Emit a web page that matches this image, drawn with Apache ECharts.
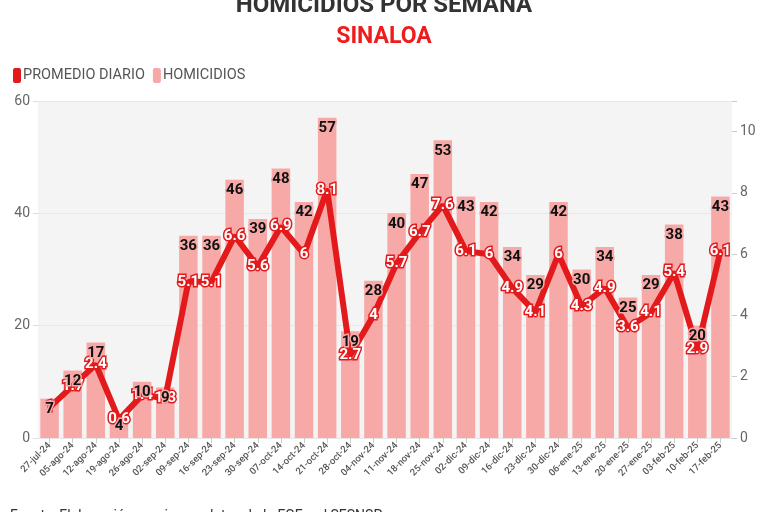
<!DOCTYPE html>
<html>
<head>
<meta charset="utf-8">
<script src="https://cdn.jsdelivr.net/npm/echarts@6/dist/echarts.min.js"></script>
<style>
  html, body { margin: 0; padding: 0; background: #fff; }
  #chart { width: 768px; height: 512px; }
</style>
</head>
<body>
<div id="chart"></div>
<script>
const weeks = [
  "27-jul-24", "05-ago-24", "12-ago-24", "19-ago-24", "26-ago-24", "02-sep-24",
  "09-sep-24", "16-sep-24", "23-sep-24", "30-sep-24", "07-oct-24", "14-oct-24",
  "21-oct-24", "28-oct-24", "04-nov-24", "11-nov-24", "18-nov-24", "25-nov-24",
  "02-dic-24", "09-dic-24", "16-dic-24", "23-dic-24", "30-dic-24", "06-ene-25",
  "13-ene-25", "20-ene-25", "27-ene-25", "03-feb-25", "10-feb-25", "17-feb-25"
];
const homicidios = [
  7, 12, 17, 4, 10, 9, 36, 36, 46, 39, 48, 42, 57, 19, 28,
  40, 47, 53, 43, 42, 34, 29, 42, 30, 34, 25, 29, 38, 20, 43
];
const promedioDiario = [
  1, 1.7, 2.4, 0.6, 1.4, 1.3, 5.1, 5.1, 6.6, 5.6, 6.9, 6, 8.1, 2.7, 4,
  5.7, 6.7, 7.6, 6.1, 6, 4.9, 4.1, 6, 4.3, 4.9, 3.6, 4.1, 5.4, 2.9, 6.1
];
const leftTicks = [0, 20, 40, 60];
const rightTicks = [0, 2, 4, 6, 8, 10];

const RED = "#e31a1c";
const PINK = "#f7a9a8";
const FONT = "Roboto";

const barLabel = {
  show: true,
  position: "insideTop",
  distance: 3,
  fontSize: 15,
  fontWeight: "bold",
  color: "#111",
  textBorderColor: PINK,
  textBorderWidth: 3
};

const chart = echarts.init(document.getElementById("chart"));

chart.setOption({
  backgroundColor: "#fff",
  textStyle: { fontFamily: FONT },
  title: [
    {
      text: "HOMICIDIOS POR SEMANA",
      left: "center",
      top: -11,
      textStyle: { fontSize: 24, fontWeight: "bold", color: "#333", fontFamily: FONT }
    },
    {
      text: "SINALOA",
      left: "center",
      top: 21,
      textStyle: { fontSize: 23, fontWeight: "bold", color: "#ee1c1c", fontFamily: FONT }
    }
  ],
  legend: {
    left: 8,
    top: 63,
    itemWidth: 8,
    itemHeight: 15,
    itemGap: 8,
    icon: "roundRect",
    textStyle: { fontSize: 14.5, color: "#555", padding: [0, 0, 0, -3] },
    data: ["PROMEDIO DIARIO", "HOMICIDIOS"]
  },
  grid: {
    left: 38,
    right: 36,
    top: 101,
    bottom: 74,
    show: true,
    backgroundColor: "#f4f4f4",
    borderWidth: 0
  },
  xAxis: {
    type: "category",
    data: weeks,
    axisLine: { show: true, lineStyle: { color: "#e6e6e6" } },
    axisTick: { show: true, alignWithLabel: true, length: 5, lineStyle: { color: "#ccc" } },
    axisLabel: {
      interval: 0,
      rotate: 45,
      fontSize: 9.5,
      color: "#555",
      fontWeight: 500,
      margin: 6
    }
  },
  yAxis: [
    {
      type: "value",
      min: leftTicks[0],
      max: leftTicks[leftTicks.length - 1],
      interval: 20,
      axisLine: { show: false },
      axisTick: { show: true, length: 5, lineStyle: { color: "#ddd" } },
      axisLabel: { fontSize: 14, color: "#666", margin: 8 },
      splitLine: { show: true, lineStyle: { color: "#e8e8e8" } }
    },
    {
      type: "value",
      min: 0,
      max: 11,
      interval: 2,
      position: "right",
      axisLine: { show: false },
      axisTick: { show: true, length: 5, lineStyle: { color: "#ccc" } },
      axisLabel: {
        fontSize: 14,
        color: "#666",
        margin: 8,
        formatter: v => (rightTicks.includes(v) ? String(v) : "")
      },
      splitLine: { show: false }
    }
  ],
  series: [
    {
      name: "HOMICIDIOS",
      type: "bar",
      yAxisIndex: 0,
      data: homicidios,
      barCategoryGap: "20%",
      itemStyle: { color: PINK },
      z: 2
    },
    {
      name: "PROMEDIO DIARIO",
      type: "line",
      yAxisIndex: 1,
      data: promedioDiario,
      symbol: "circle",
      symbolSize: 4,
      itemStyle: { color: RED },
      lineStyle: { color: RED, width: 6 },
      label: {
        show: true,
        position: "inside",
        fontSize: 15,
        fontWeight: "bold",
        color: "#fff",
        textBorderColor: RED,
        textBorderWidth: 3
      },
      z: 5
    },
    {
      // bar labels drawn above the line, as in the original
      name: "HOMICIDIOS_LABELS",
      type: "bar",
      yAxisIndex: 0,
      data: homicidios,
      barGap: "-100%",
      barCategoryGap: "20%",
      itemStyle: { color: "rgba(0,0,0,0)" },
      label: barLabel,
      silent: true,
      z: 10
    }
  ],
  graphic: [
    {
      type: "text",
      left: 10,
      top: 509,
      style: {
        text: "Fuente: Elaboración propia con datos de la FGE y el SESNSP",
        fontSize: 14,
        fill: "#333",
        fontFamily: FONT
      }
    }
  ]
});
</script>
</body>
</html>
